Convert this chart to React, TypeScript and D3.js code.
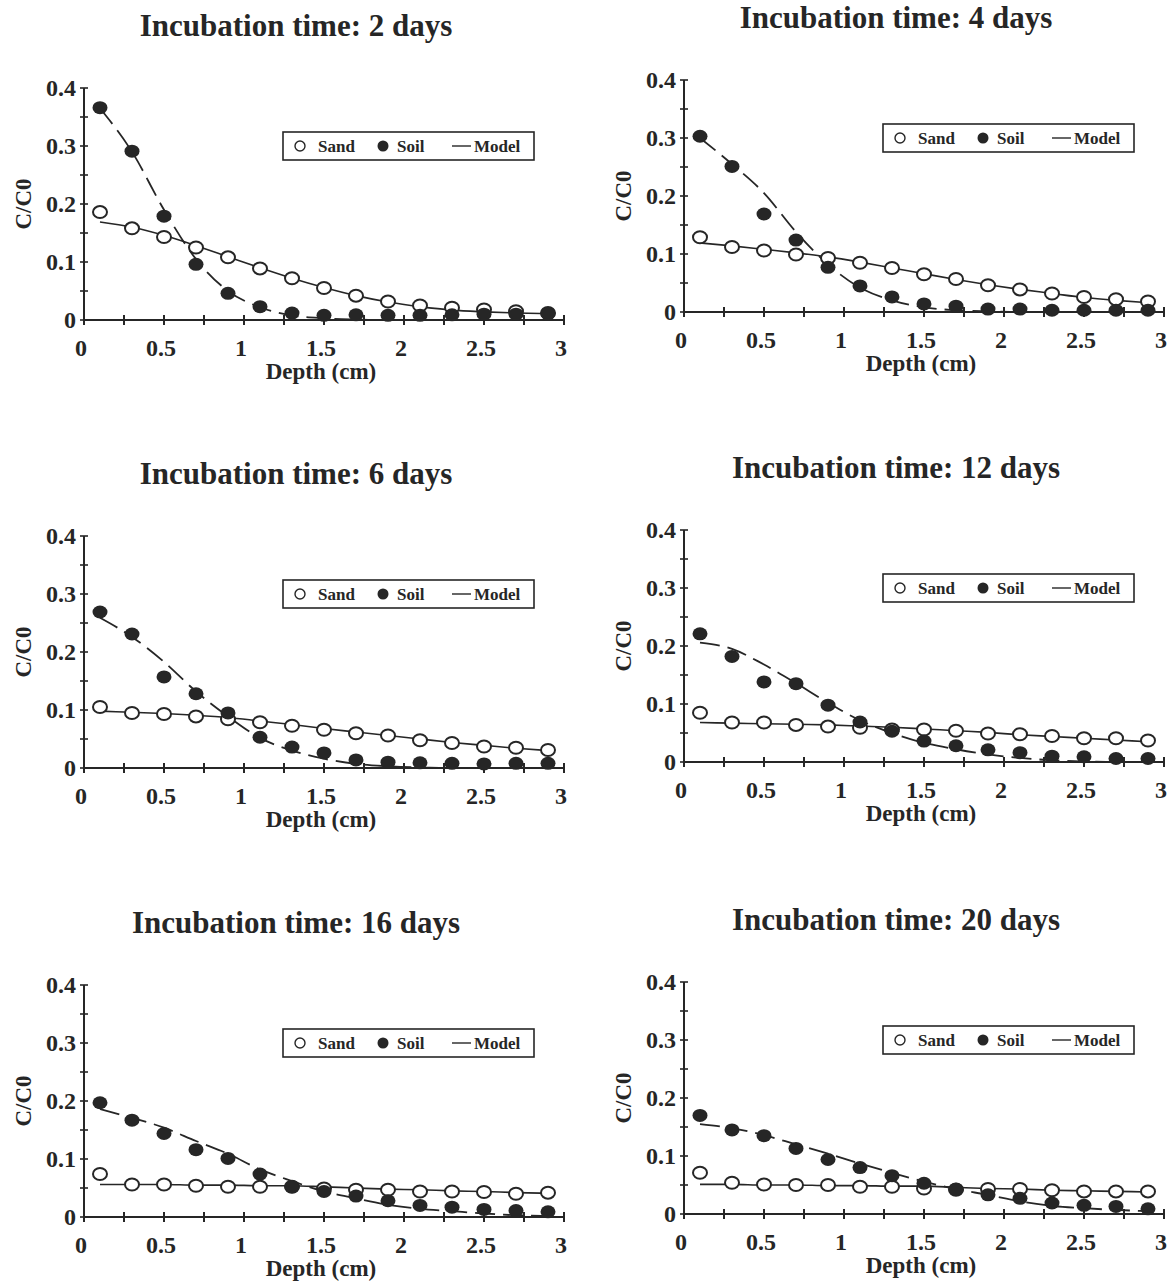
import React from "react";
import * as d3 from "d3";

// Sampling depths (cm) shared by every incubation time
const depths = [0.1, 0.3, 0.5, 0.7, 0.9, 1.1, 1.3, 1.5, 1.7, 1.9, 2.1, 2.3, 2.5, 2.7, 2.9];
const incubationDays = [2, 4, 6, 12, 16, 20];

// Measured relative concentration C/C0 in sand
const sand2 = [0.186, 0.158, 0.143, 0.125, 0.108, 0.089, 0.072, 0.055, 0.042, 0.032, 0.025, 0.021, 0.018, 0.015, 0.012];
const sand4 = [0.129, 0.112, 0.106, 0.099, 0.093, 0.085, 0.076, 0.065, 0.057, 0.046, 0.039, 0.032, 0.026, 0.022, 0.018];
const sand6 = [0.105, 0.095, 0.093, 0.089, 0.084, 0.079, 0.073, 0.066, 0.060, 0.056, 0.048, 0.043, 0.037, 0.035, 0.031];
const sand12 = [0.085, 0.068, 0.068, 0.064, 0.061, 0.059, 0.056, 0.056, 0.054, 0.049, 0.048, 0.045, 0.041, 0.041, 0.037];
const sand16 = [0.074, 0.056, 0.056, 0.054, 0.052, 0.052, 0.052, 0.049, 0.047, 0.047, 0.044, 0.044, 0.043, 0.040, 0.042];
const sand20 = [0.071, 0.054, 0.051, 0.050, 0.050, 0.047, 0.047, 0.044, 0.042, 0.043, 0.043, 0.041, 0.039, 0.039, 0.039];

// Measured relative concentration C/C0 in soil
const soil2 = [0.366, 0.291, 0.179, 0.096, 0.046, 0.023, 0.012, 0.008, 0.009, 0.008, 0.008, 0.009, 0.010, 0.010, 0.011];
const soil4 = [0.303, 0.251, 0.169, 0.124, 0.077, 0.045, 0.026, 0.014, 0.010, 0.005, 0.005, 0.003, 0.003, 0.003, 0.003];
const soil6 = [0.269, 0.231, 0.157, 0.128, 0.095, 0.053, 0.036, 0.026, 0.014, 0.010, 0.009, 0.008, 0.007, 0.008, 0.008];
const soil12 = [0.221, 0.182, 0.138, 0.135, 0.098, 0.069, 0.053, 0.036, 0.028, 0.021, 0.016, 0.010, 0.009, 0.006, 0.006];
const soil16 = [0.197, 0.167, 0.144, 0.116, 0.101, 0.074, 0.052, 0.044, 0.036, 0.028, 0.020, 0.017, 0.013, 0.011, 0.009];
const soil20 = [0.170, 0.145, 0.135, 0.113, 0.094, 0.080, 0.066, 0.053, 0.043, 0.033, 0.027, 0.019, 0.015, 0.013, 0.009];

// Model curves for sand (solid line)
const sandModel2 = [0.169, 0.160, 0.146, 0.128, 0.109, 0.090, 0.072, 0.056, 0.042, 0.031, 0.023, 0.017, 0.014, 0.012, 0.011];
const sandModel4 = [0.119, 0.114, 0.108, 0.102, 0.095, 0.086, 0.076, 0.066, 0.056, 0.047, 0.039, 0.032, 0.025, 0.020, 0.016];
const sandModel6 = [0.098, 0.096, 0.094, 0.091, 0.087, 0.081, 0.075, 0.068, 0.062, 0.056, 0.050, 0.044, 0.039, 0.034, 0.030];
const sandModel12 = [0.068, 0.067, 0.066, 0.065, 0.064, 0.062, 0.060, 0.057, 0.054, 0.051, 0.047, 0.044, 0.041, 0.038, 0.035];
const sandModel16 = [0.056, 0.056, 0.056, 0.055, 0.055, 0.054, 0.054, 0.052, 0.050, 0.048, 0.047, 0.045, 0.044, 0.042, 0.041];
const sandModel20 = [0.051, 0.051, 0.050, 0.050, 0.049, 0.049, 0.048, 0.048, 0.046, 0.044, 0.043, 0.041, 0.040, 0.039, 0.038];

// Model curves for soil (dashed line)
const soilModel2 = [0.365, 0.290, 0.190, 0.105, 0.050, 0.022, 0.008, 0.003, 0.001, 0, 0, 0, 0, 0, 0];
const soilModel4 = [0.300, 0.255, 0.205, 0.138, 0.082, 0.042, 0.020, 0.008, 0.003, 0.001, 0, 0, 0, 0, 0];
const soilModel6 = [0.259, 0.226, 0.183, 0.132, 0.089, 0.052, 0.030, 0.016, 0.007, 0.003, 0.001, 0, 0, 0, 0];
const soilModel12 = [0.206, 0.195, 0.168, 0.136, 0.102, 0.072, 0.050, 0.033, 0.022, 0.013, 0.007, 0.003, 0.001, 0, 0];
const soilModel16 = [0.186, 0.171, 0.154, 0.131, 0.109, 0.082, 0.062, 0.044, 0.032, 0.021, 0.014, 0.010, 0.006, 0.003, 0.002];
const soilModel20 = [0.155, 0.148, 0.136, 0.120, 0.104, 0.087, 0.071, 0.056, 0.043, 0.033, 0.022, 0.014, 0.010, 0.007, 0.005];

const xTickValues = [0, 0.5, 1, 1.5, 2, 2.5, 3];
const yTickValues = [0, 0.1, 0.2, 0.3, 0.4];
const legendLabels = ["Sand", "Soil", "Model"];

const sandSeries = [sand2, sand4, sand6, sand12, sand16, sand20];
const soilSeries = [soil2, soil4, soil6, soil12, soil16, soil20];
const sandModelSeries = [sandModel2, sandModel4, sandModel6, sandModel12, sandModel16, sandModel20];
const soilModelSeries = [soilModel2, soilModel4, soilModel6, soilModel12, soilModel16, soilModel20];

// Panel placement on the page (left edge of plot, top of the 0.4 gridline)
const panelLayout = [
  { x0: 84, top: 88 },
  { x0: 684, top: 80 },
  { x0: 84, top: 536 },
  { x0: 684, top: 530 },
  { x0: 84, top: 985 },
  { x0: 684, top: 982 },
];

const PLOT_W = 480;
const PLOT_H = 232;
const INK = "#262626";
const FONT = "'Liberation Serif', 'Times New Roman', serif";

function Panel({ idx }: { idx: number }) {
  const { x0, top } = panelLayout[idx];
  const x = d3.scaleLinear().domain([0, 3]).range([x0, x0 + PLOT_W]);
  const y = d3.scaleLinear().domain([0, 0.4]).range([top + PLOT_H, top]);
  const yBase = y(0);

  const line = d3
    .line<number>()
    .x((_, i) => x(depths[i]))
    .y((v) => y(v))
    .curve(d3.curveMonotoneX);

  const xMinor = d3.range(0, 3.0001, 0.25);
  const yMinor = d3.range(0, 0.4001, 0.05);

  const legL = x0 + 199;
  const legT = top + 44;
  const legCy = legT + 14;

  return (
    <g>
      <text
        x={x0 + 212}
        y={top - 52}
        textAnchor="middle"
        fontFamily={FONT}
        fontWeight="bold"
        fontSize={31}
        fill={INK}
      >
        {`Incubation time: ${incubationDays[idx]} days`}
      </text>

      {/* axes */}
      <line x1={x(0)} x2={x(0)} y1={y(0.4)} y2={yBase} stroke={INK} strokeWidth={2} />
      <line x1={x(0)} x2={x(3)} y1={yBase} y2={yBase} stroke={INK} strokeWidth={2} />
      {xMinor.map((t) => (
        <line key={"xt" + t} x1={x(t)} x2={x(t)} y1={yBase - 5} y2={yBase + 5} stroke={INK} strokeWidth={2} />
      ))}
      {yMinor.map((t) => (
        <line key={"yt" + t} x1={x(0) - 4} x2={x(0) + 4} y1={y(t)} y2={y(t)} stroke={INK} strokeWidth={1.6} />
      ))}
      {xTickValues.map((t) => (
        <text
          key={"xl" + t}
          x={x(t) - 3}
          y={yBase + 36}
          textAnchor="middle"
          fontFamily={FONT}
          fontWeight="bold"
          fontSize={24}
          fill={INK}
        >
          {String(t)}
        </text>
      ))}
      {yTickValues.map((t) => (
        <text
          key={"yl" + t}
          x={x(0) - 8}
          y={y(t) + 8}
          textAnchor="end"
          fontFamily={FONT}
          fontWeight="bold"
          fontSize={24}
          fill={INK}
        >
          {String(t)}
        </text>
      ))}
      <text
        x={(x(0) + x(3)) / 2 - 3}
        y={yBase + 59}
        textAnchor="middle"
        fontFamily={FONT}
        fontWeight="bold"
        fontSize={23}
        fill={INK}
      >
        Depth (cm)
      </text>
      <text
        transform={`translate(${x0 - 53},${(y(0) + y(0.4)) / 2}) rotate(-90)`}
        textAnchor="middle"
        fontFamily={FONT}
        fontWeight="bold"
        fontSize={23}
        fill={INK}
      >
        C/C0
      </text>

      {/* model curves */}
      <path d={line(sandModelSeries[idx]) || ""} fill="none" stroke={INK} strokeWidth={1.6} />
      <path
        d={line(soilModelSeries[idx]) || ""}
        fill="none"
        stroke={INK}
        strokeWidth={1.8}
        strokeDasharray="20,8"
      />

      {/* measured points */}
      {sandSeries[idx].map((v, i) => (
        <ellipse
          key={"s" + i}
          cx={x(depths[i])}
          cy={y(v)}
          rx={7}
          ry={6}
          fill="white"
          stroke={INK}
          strokeWidth={2}
        />
      ))}
      {soilSeries[idx].map((v, i) => (
        <ellipse key={"o" + i} cx={x(depths[i])} cy={y(v)} rx={7.5} ry={6.5} fill={INK} />
      ))}

      {/* legend */}
      <rect x={legL} y={legT} width={251} height={28} fill="white" stroke={INK} strokeWidth={1.6} />
      <circle cx={legL + 17} cy={legCy} r={5} fill="white" stroke={INK} strokeWidth={1.4} />
      <text x={legL + 35} y={legCy + 6} fontFamily={FONT} fontWeight="bold" fontSize={17} fill={INK}>
        {legendLabels[0]}
      </text>
      <circle cx={legL + 100} cy={legCy} r={5.5} fill={INK} />
      <text x={legL + 114} y={legCy + 6} fontFamily={FONT} fontWeight="bold" fontSize={17} fill={INK}>
        {legendLabels[1]}
      </text>
      <line x1={legL + 169} x2={legL + 188} y1={legCy} y2={legCy} stroke={INK} strokeWidth={1.4} />
      <text x={legL + 191} y={legCy + 6} fontFamily={FONT} fontWeight="bold" fontSize={17} fill={INK}>
        {legendLabels[2]}
      </text>
    </g>
  );
}

export default function App() {
  return (
    <div style={{ position: "absolute", left: 0, top: 0 }}>
      <svg width={1173} height={1285} style={{ display: "block", background: "white" }}>
        {incubationDays.map((_, i) => (
          <Panel key={i} idx={i} />
        ))}
      </svg>
    </div>
  );
}
